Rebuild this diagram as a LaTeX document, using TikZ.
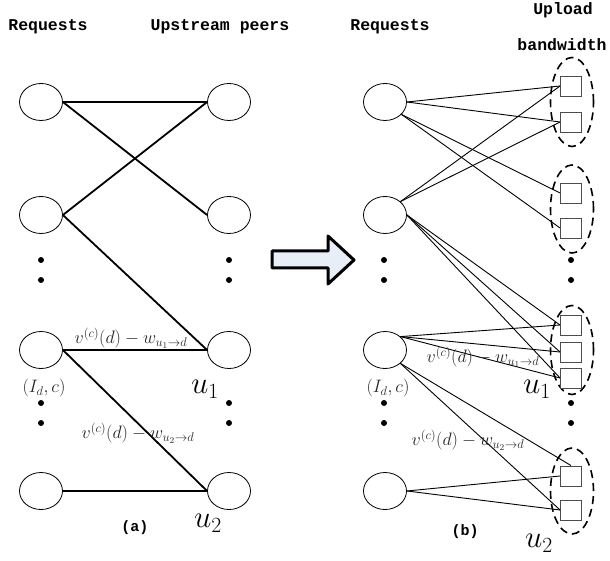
\RequirePackage{fix-cm}
\documentclass[tikz,border=0pt]{standalone}
\usepackage{fontspec}
\newfontfamily\monofont{Liberation Mono}
\usetikzlibrary{shapes.geometric}
\definecolor{arrowfill}{HTML}{E8EEF8}
\begin{document}
\begin{tikzpicture}[x=1pt,y=-1pt,
  req/.style={ellipse,draw,line width=0.8pt,minimum width=43pt,minimum height=37pt,inner sep=0},
  sq/.style={rectangle,draw=black!70,line width=0.9pt,minimum width=21pt,minimum height=20pt,inner sep=0},
  grp/.style={ellipse,draw,dash pattern=on 8pt off 5pt,line width=1.6pt,minimum width=43pt,inner sep=0},
  thickedge/.style={line width=1.8pt},
  thinedge/.style={line width=0.9pt},
  dotn/.style={circle,fill,inner sep=0,minimum size=6pt},
  hdr/.style={font=\monofont\bfseries\fontsize{16.5}{16.5}\selectfont,inner sep=0},
  captxt/.style={font=\monofont\bfseries\fontsize{15}{15}\selectfont,inner sep=0},
  lab/.style={text=black!85,font=\fontsize{18}{18}\selectfont,inner sep=0},
  big/.style={font=\fontsize{31}{31}\selectfont,inner sep=0}]
\useasboundingbox (0,0) rectangle (610,561);

% ---------- panel (a) ----------
\node[hdr] (ha1) at (48,27) {Requests};
\node[hdr] (ha2) at (220,27) {Upstream peers};

\node[req] (L1) at (41,102) {};
\node[req] (L2) at (41,215) {};
\node[req] (L3) at (41,350) {};
\node[req] (L4) at (41,491) {};
\node[req] (R1) at (229,102) {};
\node[req] (R2) at (229,215) {};
\node[req] (U1) at (229,350) {};
\node[req] (U2) at (229,491) {};

\foreach \n/\x/\y in {a1/41/260,a2/41/280,a3/229/260,a4/229/280,a5/41/403,a6/41/423,a7/229/403,a8/229/423}
  \node[dotn] (d\n) at (\x,\y) {};

\draw[thickedge] (L1.east) -- (R1.west);
\draw[thickedge] (L1.east) -- (R2.west);
\draw[thickedge] (L2.east) -- (R1.west);
\draw[thickedge] (L2.east) -- (U1.west);
\draw[thickedge] (L3.east) -- (U1.west);
\draw[thickedge] (L3.east) -- (U2.west);
\draw[thickedge] (L4.east) -- (U2.west);

\node[lab] (ma1) at (131,338) {$v^{(c)}(d)-w_{u_1\to d}$};
\node[lab] (ma2) at (138,433) {$v^{(c)}(d)-w_{u_2\to d}$};
\node[lab] (ia) at (44,388) {$(I_d,c)$};
\node[big] (ua1) at (205,389) {$u_1$};
\node[big] (ua2) at (208,523) {$u_2$};
\node[captxt] (capa) at (135,528) {(a)};

% ---------- arrow ----------
\draw[line width=3pt,line join=round,fill=arrowfill]
  (272,251) -- (328,251) -- (328,236) -- (354,260) -- (328,284) -- (328,268) -- (272,268) -- cycle;

% ---------- panel (b) ----------
\node[hdr] (hb1) at (390,27) {Requests};
\node[hdr] (hb2) at (563,10) {Upload};
\node[hdr] (hb3) at (562,45) {bandwidth};

\node[req] (B1) at (385,102) {};
\node[req] (B2) at (385,215) {};
\node[req] (B3) at (385,350) {};
\node[req] (B4) at (385,491) {};

\node[grp,minimum height=89pt] (g1) at (572,102) {};
\node[grp,minimum height=88pt] (g2) at (572,209) {};
\node[grp,minimum height=89pt] (g3) at (572,350) {};
\node[grp,minimum height=86pt] (g4) at (572,491) {};

\foreach \n/\y in {1/86,2/122,3/193,4/228,5/325,6/352,7/378,8/476,9/510}
  \node[sq,fill=white] (s\n) at (571,\y) {};

\foreach \n/\x/\y in {b1/384/260,b2/384/280,b3/571/260,b4/571/280,b5/384/403,b6/384/423,b7/571/403,b8/571/423}
  \node[dotn] (d\n) at (\x,\y) {};

\draw[thinedge] (B1.east) -- (s1.west);
\draw[thinedge] (B1.east) -- (s2.west);
\draw[thinedge] (B1.-37) -- (s3.west);
\draw[thinedge] (B1.-37) -- (s4.west);
\draw[thinedge] (B2.41) -- (s1.west);
\draw[thinedge] (B2.41) -- (s2.west);
\draw[thinedge] (B2.east) -- (s5.west);
\draw[thinedge] (B2.east) -- (s6.west);
\draw[thinedge] (B2.east) -- (s7.west);
\draw[thinedge] (B3.41) -- (s5.west);
\draw[thinedge] (B3.41) -- (s6.west);
\draw[thinedge] (B3.41) -- (s7.west);
\draw[thinedge] (B3.-41) -- (s8.north);
\draw[thinedge] (B3.-41) -- (s9.west);
\draw[thinedge] (B4.east) -- (s8.west);
\draw[thinedge] (B4.east) -- (s9.west);

\node[lab] (mb1) at (483,357) {$v^{(c)}(d)-w_{u_1\to d}$};
\node[lab] (mb2) at (468,440) {$v^{(c)}(d)-w_{u_2\to d}$};
\node[lab] (ib) at (388,388) {$(I_d,c)$};
\node[big] (ub1) at (537,389) {$u_1$};
\node[big] (ub2) at (539,543) {$u_2$};
\node[captxt] (capb) at (465,532) {(b)};
\end{tikzpicture}
\end{document}
